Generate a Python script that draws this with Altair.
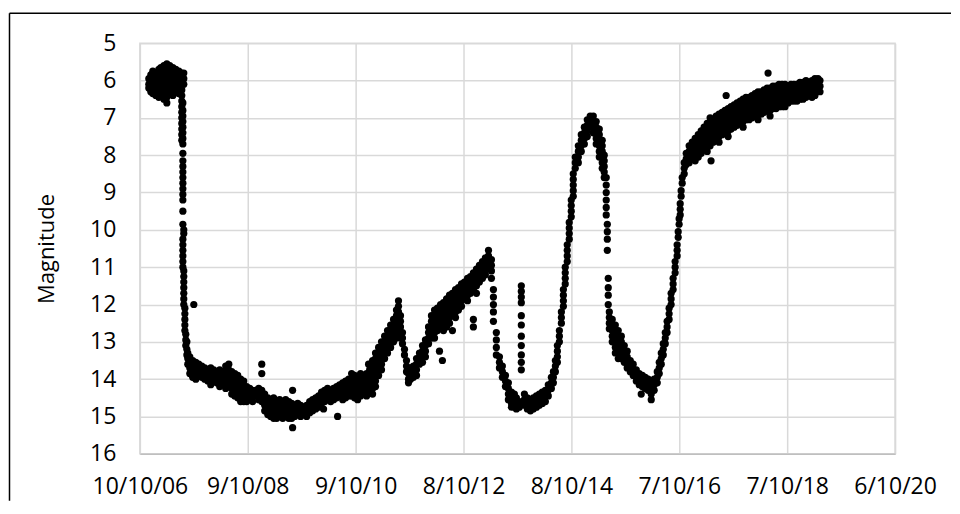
import json
import altair as alt
import pandas as pd

# x = days since 10/10/06, y = magnitude
tick_days = [0, 700, 1400, 2100, 2800, 3500, 4200, 4900]
tick_labels = ["10/10/06", "9/10/08", "9/10/10", "8/10/12", "8/10/14", "7/10/16", "7/10/18", "6/10/20"]
mag_ticks = [5, 6, 7, 8, 9, 10, 11, 12, 13, 14, 15, 16]

outburst_2006 = [
    (58, [5.95, 6.1, 6.2]),
    (71, [5.85, 6.0, 6.15, 6.3]),
    (84, [5.75, 5.9, 6.05, 6.2, 6.35]),
    (104, [5.8, 5.95, 6.1, 6.25, 6.4]),
    (123, [5.7, 5.85, 6.0, 6.15, 6.3, 6.45]),
    (136, [5.65, 5.8, 5.95, 6.1, 6.25, 6.4]),
    (156, [5.6, 5.75, 5.9, 6.05, 6.2, 6.35, 6.5]),
    (175, [5.55, 5.7, 5.85, 6.0, 6.15, 6.3, 6.45, 6.6]),
    (194, [5.6, 5.75, 5.9, 6.05, 6.2, 6.35]),
    (214, [5.65, 5.8, 5.95, 6.1, 6.25, 6.4]),
    (233, [5.7, 5.85, 6.0, 6.15, 6.3]),
    (253, [5.75, 5.9, 6.05, 6.2, 6.35]),
    (272, [5.8, 5.95, 6.1, 6.25, 6.4, 6.55, 6.7, 6.85, 7.0, 7.15, 7.3, 7.45, 7.6]),
    (279, [6.6, 6.8, 6.95, 7.1, 7.25, 7.4, 7.55, 7.7, 7.95, 8.15, 8.3, 8.45, 8.6, 8.75, 8.9,
           9.05, 9.2, 9.5, 9.85, 10.25, 10.4, 10.55, 10.7, 10.85, 11.0]),
    (285, [5.8, 5.95, 6.1, 10.0, 10.1, 11.1, 11.25, 11.4, 11.55, 11.7, 11.85, 12.0]),
    (292, [12.1, 12.25, 12.4, 12.55, 12.7]),
    (298, [12.8, 12.95, 13.1]),
]

fade_2007_2010 = [
    (305, [13.0, 13.2, 13.35]),
    (311, [13.3, 13.45, 13.6]),
    (324, [13.4, 13.55, 13.7, 13.85]),
    (343, [13.5, 13.65, 13.8, 13.95]),
    (350, [12.0]),
    (363, [13.55, 13.7, 13.85, 14.0]),
    (382, [13.6, 13.75, 13.9]),
    (402, [13.65, 13.8, 13.95]),
    (421, [13.7, 13.85, 14.0]),
    (441, [13.75, 13.9, 14.05]),
    (460, [13.7, 13.85, 14.0, 14.15]),
    (479, [13.75, 13.9, 14.05]),
    (499, [13.8, 13.95, 14.1]),
    (518, [13.75, 13.9, 14.05, 14.2]),
    (538, [13.8, 13.95, 14.1]),
    (557, [13.65, 13.8, 13.95, 14.1, 14.25]),
    (577, [13.6, 13.75, 13.9, 14.05, 14.2]),
    (596, [13.8, 13.95, 14.1, 14.25, 14.4]),
    (616, [13.85, 14.0, 14.15, 14.3, 14.45]),
    (635, [13.9, 14.05, 14.2, 14.35, 14.5]),
    (654, [14.0, 14.15, 14.3, 14.45, 14.6]),
    (674, [14.05, 14.2, 14.35, 14.5, 14.6]),
    (693, [14.2, 14.35, 14.5, 14.6]),
    (713, [14.25, 14.4, 14.55]),
    (732, [14.3, 14.45, 14.6]),
    (752, [14.3, 14.45]),
    (771, [14.25, 14.4, 14.55]),
    (791, [13.6, 13.85, 14.3, 14.45, 14.6]),
    (810, [14.4, 14.55, 14.7, 14.85]),
    (830, [14.5, 14.65, 14.8, 14.95]),
    (849, [14.55, 14.7, 14.85, 15.0]),
    (868, [14.5, 14.65, 14.8, 14.95, 15.05]),
    (888, [14.6, 14.75, 14.9, 15.05]),
    (907, [14.55, 14.7, 14.85, 15.0]),
    (927, [14.6, 14.75, 14.9, 15.05]),
    (946, [14.55, 14.7, 14.85, 15.0]),
    (966, [14.6, 14.75, 14.9, 15.05]),
    (985, [14.65, 14.8, 14.95, 15.05]),
    (991, [14.3, 15.3]),
    (1004, [14.7, 14.85, 15.0]),
    (1024, [14.65, 14.8, 14.95]),
    (1043, [14.7, 14.85, 15.0]),
    (1063, [14.75, 14.9]),
    (1082, [14.7, 14.85, 15.0]),
    (1102, [14.6, 14.75, 14.9]),
    (1121, [14.55, 14.7, 14.85]),
    (1141, [14.5, 14.65, 14.8]),
    (1160, [14.45, 14.6, 14.75]),
    (1179, [14.35, 14.5, 14.65]),
    (1192, [14.8]),
    (1199, [14.3, 14.45, 14.6]),
    (1218, [14.25, 14.4, 14.55]),
    (1238, [14.3, 14.45, 14.6]),
    (1257, [14.25, 14.4, 14.55]),
    (1277, [14.2, 14.35, 14.5]),
    (1283, [15.0]),
    (1296, [14.15, 14.3, 14.45]),
    (1316, [14.1, 14.25, 14.4, 14.55]),
    (1335, [14.05, 14.2, 14.35, 14.5]),
    (1355, [14.0, 14.15, 14.3, 14.45]),
    (1374, [13.85, 14.0, 14.15, 14.3, 14.45]),
    (1393, [13.9, 14.05, 14.2, 14.35, 14.5]),
    (1413, [13.95, 14.1, 14.25, 14.4, 14.55]),
    (1432, [13.85, 14.0, 14.15, 14.3, 14.45]),
    (1452, [13.9, 14.05, 14.2, 14.35]),
    (1471, [13.85, 14.0, 14.15, 14.3, 14.45]),
    (1484, [13.6]),
    (1491, [13.75, 13.9, 14.05, 14.2, 14.35]),
]

rebrighten_2011_2013 = [
    (1510, [13.5, 13.65, 13.8, 13.95, 14.1, 14.25, 14.4]),
    (1529, [13.3, 13.45, 13.6, 13.75, 13.9, 14.05, 14.2]),
    (1549, [13.15, 13.3, 13.45, 13.6, 13.75, 13.9]),
    (1568, [13.0, 13.15, 13.3, 13.45, 13.6, 13.75]),
    (1588, [12.85, 13.0, 13.15, 13.3, 13.45]),
    (1607, [12.7, 12.85, 13.0, 13.15, 13.3]),
    (1627, [12.55, 12.7, 12.85, 13.0, 13.15]),
    (1646, [12.4, 12.55, 12.7, 12.85, 13.0]),
    (1665, [12.15, 12.3, 12.45, 12.6, 12.75, 12.9]),
    (1678, [11.9, 12.05, 12.2, 12.35]),
    (1691, [12.3, 12.45, 12.6, 12.75, 12.9]),
    (1704, [12.75, 12.9, 13.05]),
    (1717, [13.2, 13.35]),
    (1730, [13.5, 13.65, 13.8]),
    (1743, [13.85, 14.0, 14.1]),
    (1756, [13.7, 13.85, 14.0]),
    (1775, [13.65, 13.8, 13.95]),
    (1795, [13.45, 13.6, 13.75, 13.9]),
    (1814, [13.3, 13.45, 13.6]),
    (1834, [13.1, 13.25, 13.4, 13.55]),
    (1853, [12.95, 13.1, 13.25, 13.4]),
    (1873, [12.6, 12.75, 12.9, 13.05]),
    (1892, [12.3, 12.45, 12.6, 12.75, 12.9]),
    (1912, [12.15, 12.3, 12.45, 12.6, 12.75, 12.9]),
    (1931, [12.1, 12.25, 12.4, 12.55, 12.7]),
    (1944, [13.25]),
    (1951, [12.0, 12.15, 12.3, 12.45, 12.6]),
    (1963, [13.5]),
    (1970, [11.95, 12.1, 12.25, 12.4, 12.55, 12.7]),
    (1990, [11.85, 12.0, 12.15, 12.3, 12.45, 12.6]),
    (2009, [11.75, 11.9, 12.05, 12.2, 12.35, 12.5]),
    (2028, [11.7, 11.85, 12.0, 12.15, 12.3, 12.7]),
    (2048, [11.6, 11.75, 11.9, 12.05, 12.2, 12.35]),
    (2067, [11.55, 11.7, 11.85, 12.0, 12.15]),
    (2087, [11.45, 11.6, 11.75, 11.9, 12.05]),
    (2106, [11.4, 11.55, 11.7, 11.85]),
    (2126, [11.3, 11.45, 11.6, 11.75, 11.9]),
    (2145, [11.25, 11.4, 11.55, 11.7]),
    (2164, [11.15, 11.3, 11.45, 11.6, 12.4, 12.6]),
    (2184, [11.05, 11.2, 11.35, 11.5, 11.7]),
    (2203, [10.95, 11.1, 11.25, 11.4]),
    (2223, [10.85, 11.0, 11.15, 11.3]),
    (2242, [10.75, 10.9, 11.05, 11.2]),
    (2262, [10.55, 10.7, 10.85, 11.0]),
    (2281, [10.8, 10.95, 11.1, 11.3]),
    (2294, [11.6, 11.8, 12.0, 12.2, 12.45]),
    (2313, [12.75, 12.95, 13.15, 13.35]),
    (2333, [13.4, 13.55, 13.7]),
    (2352, [13.65, 13.8, 13.95]),
    (2372, [13.9, 14.05, 14.2]),
    (2391, [14.1, 14.25, 14.4, 14.55]),
    (2411, [14.35, 14.5, 14.65, 14.75]),
    (2430, [14.4, 14.55]),
    (2443, [14.5, 14.65, 14.8]),
    (2462, [14.6, 14.75]),
    (2475, [11.5, 11.65, 11.8, 11.95, 12.3, 12.55, 12.85, 13.1, 13.35, 13.55, 13.75]),
]

outburst_2014 = [
    (2495, [14.4, 14.55, 14.7]),
    (2514, [14.5, 14.65, 14.8]),
    (2534, [14.55, 14.7, 14.85]),
    (2553, [14.5, 14.65, 14.8]),
    (2573, [14.45, 14.6, 14.75]),
    (2592, [14.4, 14.55, 14.7]),
    (2611, [14.35, 14.5, 14.65]),
    (2631, [14.3, 14.45, 14.6]),
    (2650, [14.15, 14.3, 14.45]),
    (2670, [13.95, 14.1, 14.25]),
    (2683, [13.8, 13.95, 14.1]),
    (2696, [13.5, 13.65, 13.8]),
    (2709, [13.1, 13.25, 13.4, 13.55]),
    (2722, [12.7, 12.85, 13.0]),
    (2735, [12.2, 12.35, 12.5]),
    (2748, [11.6, 11.75, 11.9, 12.05]),
    (2760, [11.0, 11.15, 11.3, 11.45]),
    (2773, [10.4, 10.55, 10.7, 10.85]),
    (2786, [9.8, 9.95, 10.1, 10.25]),
    (2799, [9.2, 9.35, 9.5, 9.65]),
    (2812, [8.5, 8.65, 8.8, 8.95, 9.1]),
    (2825, [8.05, 8.2, 8.35]),
    (2845, [7.75, 7.9, 8.05, 8.2]),
    (2864, [7.45, 7.6, 7.75, 7.9]),
    (2884, [7.25, 7.4, 7.55, 7.7]),
    (2903, [7.05, 7.2, 7.35, 7.5]),
    (2922, [6.95, 7.1, 7.25]),
    (2942, [6.95, 7.1, 7.25, 7.4]),
    (2961, [7.1, 7.25, 7.4, 7.55, 7.7]),
    (2981, [7.3, 7.45, 7.6, 7.75, 7.9, 8.05]),
    (3000, [7.6, 7.75, 7.9, 8.05, 8.2, 8.35]),
    (3013, [8.0, 8.15, 8.3, 8.45, 8.6]),
    (3026, [8.6, 8.8, 9.0, 9.2, 9.4, 9.6]),
    (3033, [9.85, 10.05, 10.25, 10.55]),
    (3039, [11.3, 11.55, 11.75, 12.0]),
    (3046, [12.2, 12.35, 12.5, 12.65]),
    (3065, [12.4, 12.55, 12.7, 12.85, 13.0]),
    (3085, [12.55, 12.7, 12.85, 13.0, 13.15, 13.3]),
    (3104, [12.7, 12.85, 13.0, 13.15, 13.3, 13.45]),
    (3124, [12.85, 13.0, 13.15, 13.3, 13.45]),
    (3143, [13.1, 13.25, 13.4, 13.55]),
    (3162, [13.25, 13.4, 13.55, 13.7]),
    (3182, [13.5, 13.65, 13.8]),
    (3201, [13.6, 13.75, 13.9]),
    (3221, [13.75, 13.9, 14.05]),
    (3240, [13.85, 14.0, 14.15]),
    (3253, [14.4]),
    (3260, [13.9, 14.05, 14.2]),
    (3279, [13.95, 14.1, 14.25]),
    (3298, [14.0, 14.15, 14.3]),
    (3318, [14.1, 14.25, 14.4, 14.55]),
    (3337, [14.0, 14.15, 14.3]),
    (3357, [13.8, 13.95, 14.1]),
]

recovery_2016_2019 = [
    (3370, [13.55, 13.7, 13.85]),
    (3383, [13.3, 13.45, 13.6]),
    (3396, [13.05, 13.2, 13.35]),
    (3409, [12.75, 12.9, 13.05]),
    (3421, [12.45, 12.6, 12.75]),
    (3434, [12.1, 12.25, 12.4]),
    (3447, [11.7, 11.85, 12.0]),
    (3460, [11.3, 11.45, 11.6]),
    (3473, [10.85, 11.0, 11.15]),
    (3486, [10.4, 10.55, 10.7]),
    (3493, [10.05, 10.2]),
    (3499, [9.7, 9.85]),
    (3506, [9.3, 9.45, 9.6]),
    (3512, [8.95, 9.1]),
    (3519, [8.6, 8.75]),
    (3532, [8.2, 8.35, 8.5]),
    (3545, [7.95, 8.1, 8.25]),
    (3564, [7.75, 7.9, 8.05, 8.2]),
    (3584, [7.65, 7.8, 7.95, 8.1]),
    (3603, [7.55, 7.7, 7.85, 8.0, 8.15]),
    (3623, [7.45, 7.6, 7.75, 7.9, 8.05]),
    (3642, [7.35, 7.5, 7.65, 7.8, 7.95]),
    (3661, [7.25, 7.4, 7.55, 7.7, 7.85]),
    (3681, [7.15, 7.3, 7.45, 7.6, 7.75, 7.9]),
    (3700, [7.0, 7.15, 7.3, 7.45, 7.6, 7.75]),
    (3706, [8.15]),
    (3720, [7.05, 7.2, 7.35, 7.5, 7.65]),
    (3739, [6.95, 7.1, 7.25, 7.4, 7.55]),
    (3758, [6.9, 7.05, 7.2, 7.35, 7.5, 7.65]),
    (3778, [6.85, 7.0, 7.15, 7.3, 7.45]),
    (3797, [6.8, 6.95, 7.1, 7.25, 7.4]),
    (3804, [6.4]),
    (3817, [6.75, 6.9, 7.05, 7.2, 7.35, 7.5]),
    (3836, [6.7, 6.85, 7.0, 7.15, 7.3]),
    (3856, [6.65, 6.8, 6.95, 7.1, 7.25]),
    (3875, [6.6, 6.75, 6.9, 7.05, 7.2]),
    (3895, [6.55, 6.7, 6.85, 7.0, 7.15]),
    (3914, [6.5, 6.65, 6.8, 6.95, 7.1, 7.25]),
    (3933, [6.45, 6.6, 6.75, 6.9, 7.05]),
    (3953, [6.45, 6.6, 6.75, 6.9, 7.05]),
    (3972, [6.4, 6.55, 6.7, 6.85, 7.0]),
    (3992, [6.35, 6.5, 6.65, 6.8, 6.95]),
    (4011, [6.3, 6.45, 6.6, 6.75, 6.9, 7.05]),
    (4031, [6.3, 6.45, 6.6, 6.75, 6.9]),
    (4050, [6.25, 6.4, 6.55, 6.7, 6.85]),
    (4070, [6.2, 6.35, 6.5, 6.65, 6.8]),
    (4076, [5.8]),
    (4089, [6.2, 6.35, 6.5, 6.65, 6.8, 6.95]),
    (4108, [6.15, 6.3, 6.45, 6.6, 6.75]),
    (4128, [6.15, 6.3, 6.45, 6.6, 6.75]),
    (4147, [6.1, 6.25, 6.4, 6.55, 6.7]),
    (4167, [6.1, 6.25, 6.4, 6.55, 6.7]),
    (4186, [6.1, 6.25, 6.4, 6.55, 6.7]),
    (4206, [6.15, 6.3, 6.45, 6.6]),
    (4225, [6.1, 6.25, 6.4, 6.55]),
    (4244, [6.1, 6.25, 6.4, 6.55]),
    (4264, [6.1, 6.25, 6.4, 6.55]),
    (4283, [6.05, 6.2, 6.35, 6.5]),
    (4303, [6.05, 6.2, 6.35, 6.5]),
    (4322, [6.0, 6.15, 6.3, 6.45]),
    (4341, [6.05, 6.2, 6.35]),
    (4361, [6.0, 6.15, 6.3, 6.45]),
    (4380, [5.95, 6.1, 6.25, 6.4]),
    (4400, [5.95, 6.1, 6.25]),
    (4413, [6.0, 6.15, 6.3]),
]

rows = []
for seg in (outburst_2006, fade_2007_2010, rebrighten_2011_2013, outburst_2014, recovery_2016_2019):
    for day, mags in seg:
        for m in mags:
            rows.append({"day": day, "mag": m})
df = pd.DataFrame(rows)

label_expr = json.dumps(tick_labels) + "[round(datum.value / 700)]"

points = alt.Chart(df).mark_circle(size=52, color="black", opacity=1).encode(
    x=alt.X(
        "day:Q",
        scale=alt.Scale(domain=[0, 4900], nice=False, zero=False),
        axis=alt.Axis(
            values=tick_days, labelExpr=label_expr, title=None, grid=True,
            gridColor="#d9d9d9", gridWidth=1.5, ticks=False,
            domain=True, domainColor="#bfbfbf", domainWidth=1.5,
            labelFont="Open Sans", labelFontSize=23, labelColor="black",
            labelPadding=22, labelOverlap=False, labelFlush=False,
        ),
    ),
    y=alt.Y(
        "mag:Q",
        scale=alt.Scale(domain=[5, 16], reverse=True, nice=False, zero=False),
        axis=alt.Axis(
            values=mag_ticks, format="d", title="Magnitude", grid=True,
            gridColor="#d9d9d9", gridWidth=1.5, ticks=False, domain=False,
            labelFont="Open Sans", labelFontSize=23, labelColor="black",
            labelPadding=24, labelOverlap=False, labelFlush=False,
            titleFont="Open Sans", titleFontSize=22, titleFontWeight="normal",
            titleColor="black", titlePadding=31,
        ),
    ),
)

frame_src = pd.DataFrame({"a": [0]})
frame_top = alt.Chart(frame_src).mark_rule(color="black", strokeWidth=1.5).encode(
    x=alt.value(-130.5), x2=alt.value(812), y=alt.value(-30)
)
frame_left = alt.Chart(frame_src).mark_rule(color="black", strokeWidth=1.5).encode(
    x=alt.value(-130.5), y=alt.value(-30), y2=alt.value(458)
)

chart = alt.layer(frame_top, frame_left, points).properties(
    width=756, height=411,
    padding={"left": 0, "top": 4, "right": 0, "bottom": 0},
).configure_view(stroke="#d9d9d9", strokeWidth=1.5)

chart.save("out.html", embed_options={"renderer": "svg", "actions": False})
